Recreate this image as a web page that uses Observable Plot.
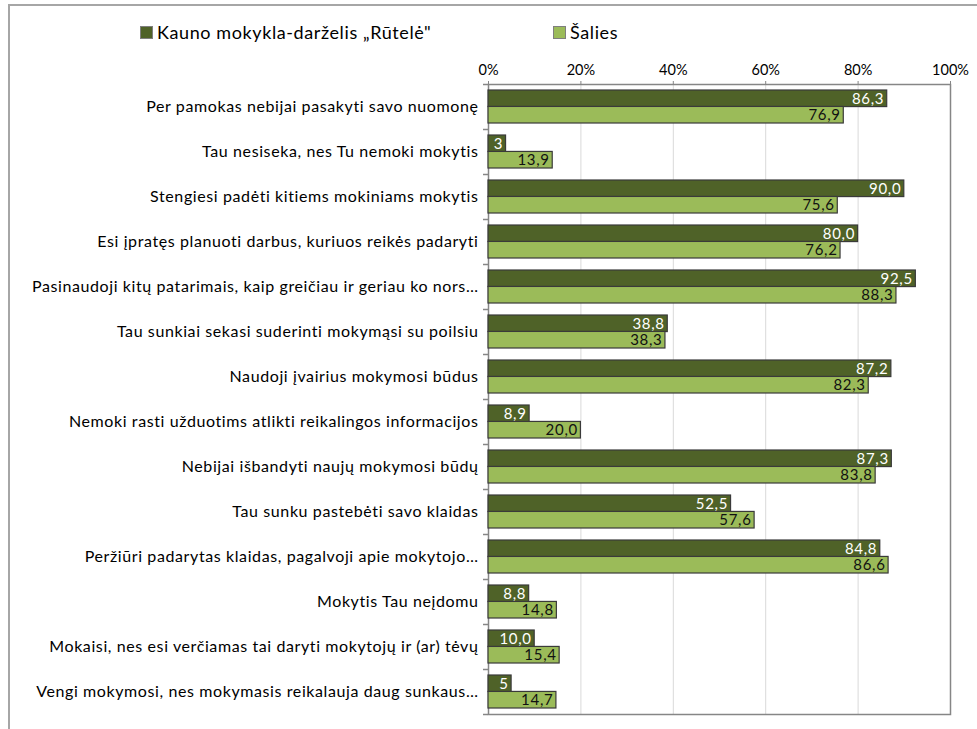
<!DOCTYPE html>
<html><head><meta charset="utf-8">
<script src="https://cdn.jsdelivr.net/npm/d3@7"></script>
<script src="https://cdn.jsdelivr.net/npm/@observablehq/plot@0.6"></script>
<style>
html,body{margin:0;padding:0;background:#fff;overflow:hidden;width:977px;height:729px}
#wrap{position:relative;width:977px;height:729px;font-family:Lato,"Open Sans",sans-serif;color:#000;background:#fff}
#border{position:absolute;left:8px;top:4px;width:1100px;height:900px;border:2px solid #a6a6a6;box-sizing:border-box;z-index:2;pointer-events:none}
#chart{position:absolute;left:0;top:0;z-index:1}
.leg{position:absolute;top:21px;font-size:18px;letter-spacing:0.6px;white-space:nowrap;display:flex;align-items:center;z-index:3}
.sw{display:inline-block;width:11px;height:11px;border:1px solid #7f7f7f;margin-right:4px}
#chart g[aria-label="y-axis tick label"] text{letter-spacing:0.6px}
#chart g[aria-label="text"] text{letter-spacing:0.7px}
</style>
</head><body>
<div id="wrap">
  <div id="border"></div>
  <div id="chart"></div>
</div>
<script>
const categories = [
  "Per pamokas nebijai pasakyti savo nuomonę",
  "Tau nesiseka, nes Tu nemoki mokytis",
  "Stengiesi padėti kitiems mokiniams mokytis",
  "Esi įpratęs planuoti darbus, kuriuos reikės padaryti",
  "Pasinaudoji kitų patarimais, kaip greičiau ir geriau ko nors…",
  "Tau sunkiai sekasi suderinti mokymąsi su poilsiu",
  "Naudoji įvairius mokymosi būdus",
  "Nemoki rasti užduotims atlikti reikalingos informacijos",
  "Nebijai išbandyti naujų mokymosi būdų",
  "Tau sunku pastebėti savo klaidas",
  "Peržiūri padarytas klaidas, pagalvoji apie mokytojo…",
  "Mokytis Tau neįdomu",
  "Mokaisi, nes esi verčiamas tai daryti mokytojų ir (ar) tėvų",
  "Vengi mokymosi, nes mokymasis reikalauja daug sunkaus…"
];
const seriesNames = ["Kauno mokykla-darželis „Rūtelė\"", "Šalies"];
const schoolValues = [86.3, 3.8, 90.0, 80.0, 92.5, 38.8, 87.2, 8.9, 87.3, 52.5, 84.8, 8.8, 10.0, 5.0];
const schoolLabels = ["86,3","3","90,0","80,0","92,5","38,8","87,2","8,9","87,3","52,5","84,8","8,8","10,0","5"];
const countryValues = [76.9, 13.9, 75.6, 76.2, 88.3, 38.3, 82.3, 20.0, 83.8, 57.6, 86.6, 14.8, 15.4, 14.7];
const countryLabels = ["76,9","13,9","75,6","76,2","88,3","38,3","82,3","20,0","83,8","57,6","86,6","14,8","15,4","14,7"];
const xTicks = [0, 20, 40, 60, 80, 100];
const gridTicks = [20, 40, 60, 80];

const colors = ["#4f6228", "#9bbb59"];

const rows = categories.map((c, i) => ({
  cat: c, school: schoolValues[i], schoolLabel: schoolLabels[i],
  country: countryValues[i], countryLabel: countryLabels[i]
}));

const marginTop = 84, marginBottom = 15, marginLeft = 488, marginRight = 27;
const height = 729;
const step = (height - marginTop - marginBottom) / categories.length;
const pad = 0.27;
const bw = step * (1 - pad);
const font = "Lato, 'Open Sans', sans-serif";

const chart = Plot.plot({
  width: 977, height,
  marginTop, marginBottom, marginLeft, marginRight,
  style: {fontFamily: font, background: "transparent", overflow: "visible"},
  x: {domain: [0, 100]},
  y: {domain: categories, paddingInner: pad, paddingOuter: pad / 2},
  marks: [
    Plot.ruleX(gridTicks, {stroke: "#d9d9d9", strokeWidth: 1}),
    Plot.frame({stroke: "#868686", strokeWidth: 1.5}),
    Plot.ruleY(categories, {y: d => d, x1: 0, x2: 0, insetLeft: -5, dy: -step / 2, stroke: "#868686", strokeWidth: 1.5}),
    Plot.ruleY([categories[categories.length - 1]], {y: d => d, x1: 0, x2: 0, insetLeft: -5, dy: step / 2, stroke: "#868686", strokeWidth: 1.5}),
    Plot.axisX({anchor: "top", ticks: xTicks, tickFormat: d => d + "%", tickSize: 4, tickPadding: 6, fontSize: 14.5, stroke: "#868686", fill: "#000", label: null}),
    Plot.axisY({tickSize: 0, tickPadding: 10, fontSize: 16, fill: "#000", label: null}),
    Plot.barX(rows, {y: "cat", x: "school", fill: colors[0], stroke: "#3a3a3a", strokeWidth: 1.2, insetBottom: bw / 2}),
    Plot.barX(rows, {y: "cat", x: "country", fill: colors[1], stroke: "#3a3a3a", strokeWidth: 1.2, insetTop: bw / 2}),
    Plot.text(rows, {y: "cat", x: "school", text: "schoolLabel", dy: -bw / 4, dx: -3, textAnchor: "end", fill: "white", fontSize: 15}),
    Plot.text(rows, {y: "cat", x: "country", text: "countryLabel", dy: bw / 4, dx: -3, textAnchor: "end", fill: "#111", fontSize: 15})
  ]
});
document.getElementById("chart").appendChild(chart);

const wrap = document.getElementById("wrap");
[[140, 0], [553, 1]].forEach(([left, i]) => {
  const d = document.createElement("div");
  d.className = "leg";
  d.style.left = left + "px";
  const sw = document.createElement("span");
  sw.className = "sw";
  sw.style.background = colors[i];
  d.appendChild(sw);
  d.appendChild(document.createTextNode(seriesNames[i]));
  wrap.appendChild(d);
});
</script>
</body></html>
